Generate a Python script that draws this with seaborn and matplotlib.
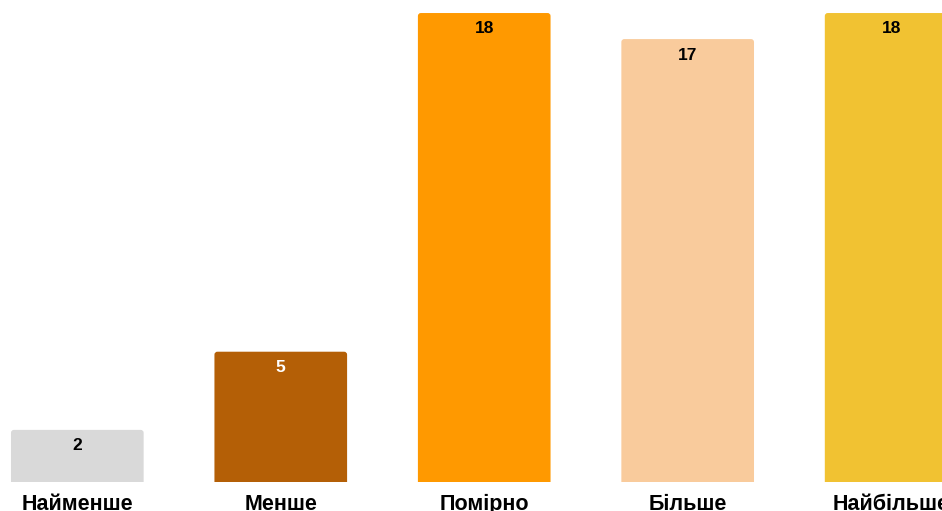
import matplotlib
matplotlib.use("Agg")
import matplotlib.pyplot as plt
from matplotlib.patches import FancyBboxPatch
import seaborn as sns
import pandas as pd

categories = ["Найменше", "Менше", "Помірно", "Більше", "Найбільше"]
values = [2, 5, 18, 17, 18]
colors = ["#d9d9d9", "#b45f06", "#ff9900", "#f9cb9c", "#f1c232"]
label_colors = ["#000000", "#ffffff", "#000000", "#000000", "#000000"]

sns.set_theme(style="white")
plt.rcParams["font.family"] = ["Liberation Sans", "DejaVu Sans"]

df = pd.DataFrame({"cat": categories, "val": values})

fig = plt.figure(figsize=(9.42, 5.11), dpi=100)
ax = fig.add_axes([0, 0.0568, 1, 0.9432])
sns.barplot(data=df, x="cat", y="val", hue="cat", palette=colors, legend=False,
            width=0.652, ax=ax, saturation=1)

ax.set_xlim(-0.38, 4.25)
ax.set_ylim(0, 18.5)

# Replace bars with slightly rounded ones
for p, col in zip(list(ax.patches), colors):
    x0, w, h = p.get_x(), p.get_width(), p.get_height()
    p.set_visible(False)
    fb = FancyBboxPatch((x0, -0.3), w, h + 0.3,
                        boxstyle="round,pad=0,rounding_size=0.0147",
                        mutation_aspect=7.8, facecolor=col, edgecolor="none",
                        clip_on=True)
    ax.add_patch(fb)
    fb.set_clip_path(ax.patch)

for i, (v, lc) in enumerate(zip(values, label_colors)):
    ax.annotate(str(v), (i, v), xytext=(0, -11.5), textcoords="offset points",
                ha="center", va="center", fontsize=12.5, fontweight="bold", color=lc)

for s in ax.spines.values():
    s.set_visible(False)
ax.set_yticks([])
ax.set_xlabel("")
ax.set_ylabel("")
ax.tick_params(axis="x", length=0, pad=8.5)
for t in ax.get_xticklabels():
    t.set_fontsize(15.5)
    t.set_fontweight("bold")
    t.set_color("#000000")

fig.savefig("out.png", dpi=100)
